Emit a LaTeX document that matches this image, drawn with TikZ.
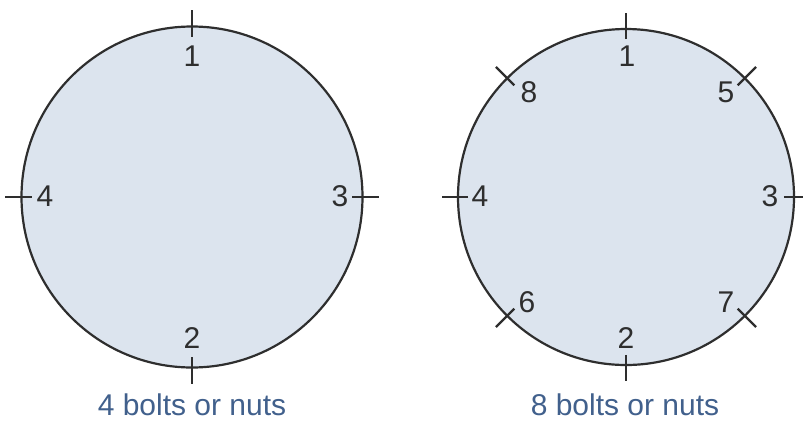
\documentclass[tikz,border=0pt]{standalone}
\usepackage{fontspec}
\setmainfont{Liberation Sans}
\usetikzlibrary{calc}
\definecolor{discfill}{HTML}{DCE4EE}
\definecolor{edge}{HTML}{2E2E2E}
\definecolor{captionblue}{HTML}{41608C}
\begin{document}
\begin{tikzpicture}[x=1pt,y=-1pt,
  disc/.style={draw=edge,line width=2.2pt,fill=discfill,circle,inner sep=0pt,outer sep=0pt},
  tickline/.style={draw=edge,line width=2.2pt},
  num/.style={font=\fontsize{30}{32}\selectfont,text=edge,inner sep=0pt},
  captext/.style={font=\fontsize{30}{32}\selectfont,text=captionblue,inner sep=0pt}]
\useasboundingbox (0,0) rectangle (803,421);
% discs
\node[disc,minimum size=341pt] (L) at (192,197) {};
\node[disc,minimum size=336pt] (R) at (626,197) {};
% ticks
\foreach \d/\a in {L/90,L/180,L/270,L/0,R/90,R/180,R/270,R/0,R/45,R/135,R/225,R/315}{
  \draw[tickline] ($(\d.center)!0.94!(\d.\a)$) -- ($(\d.center)!1.095!(\d.\a)$);
}
% left numbers
\node[num] (l1) at (192,56) {1};
\node[num] (l2) at (192,338) {2};
\node[num] (l3) at (340,196) {3};
\node[num] (l4) at (45,196) {4};
% right numbers
\node[num] (r1) at (627,56) {1};
\node[num] (r2) at (626,338) {2};
\node[num] (r3) at (770,196) {3};
\node[num] (r4) at (480,196) {4};
\node[num] (r5) at (726,92) {5};
\node[num] (r6) at (527,302) {6};
\node[num] (r7) at (726,302) {7};
\node[num] (r8) at (529,92) {8};
% captions
\node[captext] (c1) at (192,405) {4 bolts or nuts};
\node[captext] (c2) at (625,405) {8 bolts or nuts};
\end{tikzpicture}
\end{document}
